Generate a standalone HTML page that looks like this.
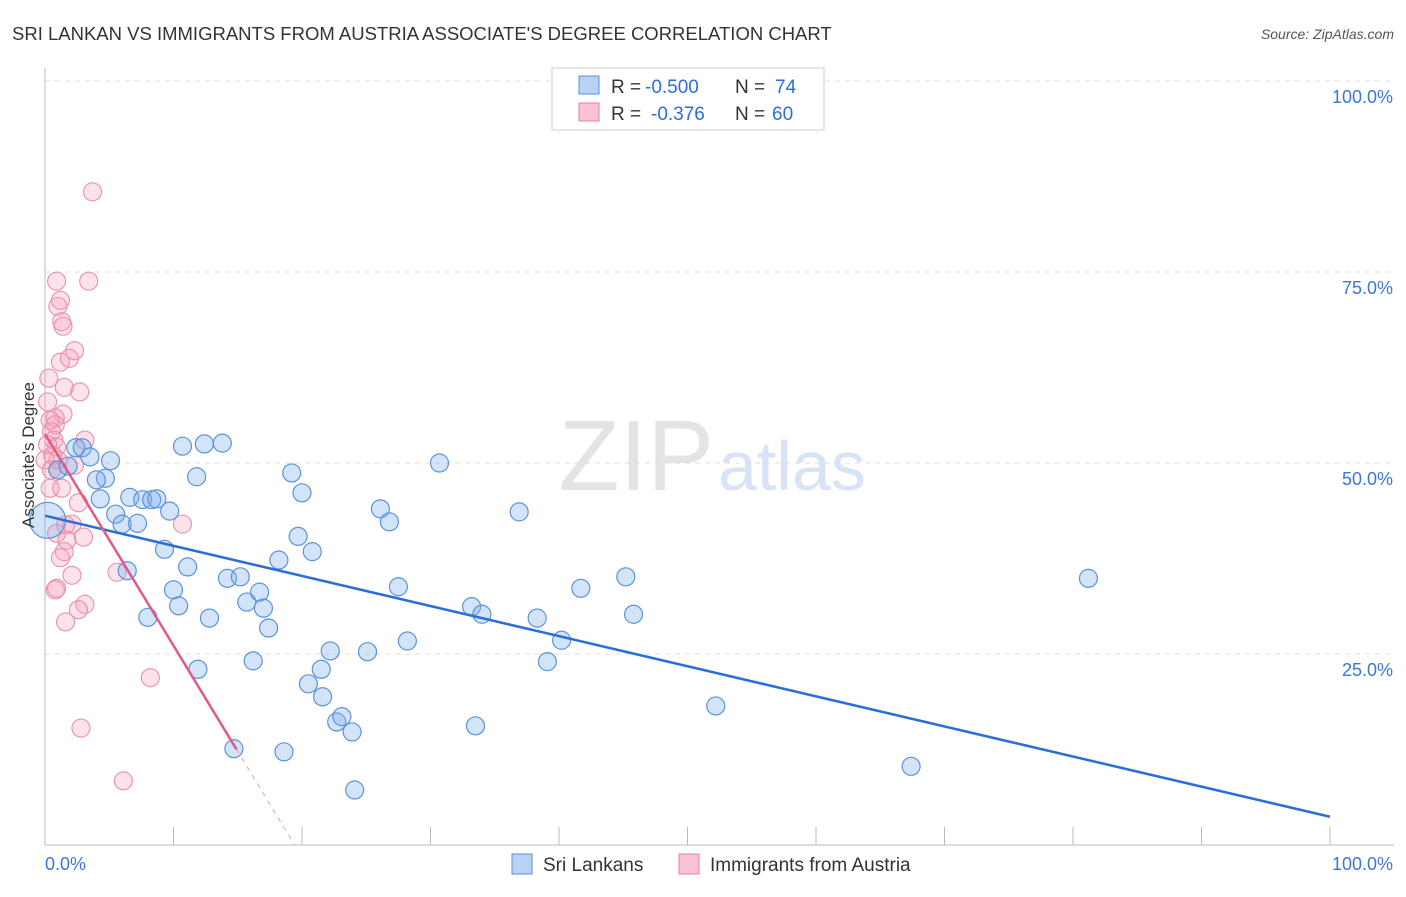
<!DOCTYPE html>
<html><head><meta charset="utf-8"><style>
body{margin:0;background:#fff;font-family:"Liberation Sans",sans-serif;}
svg text{font-family:"Liberation Sans",sans-serif;}
</style></head><body>
<svg id="chart" width="1406" height="892">
<text x="12" y="40" font-size="18.5" fill="#333">SRI LANKAN VS IMMIGRANTS FROM AUSTRIA ASSOCIATE'S DEGREE CORRELATION CHART</text>
<text x="1394" y="39" font-size="14" fill="#555" font-style="italic" text-anchor="end">Source: ZipAtlas.com</text>
<text x="714" y="490" font-size="100" fill="#e4e4e4" text-anchor="end" font-family="Liberation Serif">ZIP</text>
<text x="718" y="490" font-size="70" fill="#d6e4f5">atlas</text>
<g id="grid"></g><g id="axes"></g><g id="pts"></g><g id="lines"></g>
<text transform="translate(34,455) rotate(-90)" font-size="17" fill="#333" text-anchor="middle">Associate's Degree</text>
<g>
<rect x="552" y="68" width="272" height="62" fill="#fff" stroke="#ccc"/>
<rect x="579" y="76" width="20" height="18" fill="#b8d2f4" stroke="#5b8fd6"/>
<rect x="579" y="103" width="20" height="18" fill="#f9c3d3" stroke="#e8809f"/>
<text x="611" y="93" font-size="19" fill="#333">R =</text>
<text x="645" y="93" font-size="19" fill="#2a6fd6">-0.500</text>
<text x="735" y="93" font-size="19" fill="#333">N =</text>
<text x="775" y="93" font-size="19" fill="#2a6fd6">74</text>
<text x="611" y="120" font-size="19" fill="#333">R =</text>
<text x="651" y="120" font-size="19" fill="#2a6fd6">-0.376</text>
<text x="735" y="120" font-size="19" fill="#333">N =</text>
<text x="772" y="120" font-size="19" fill="#2a6fd6">60</text>
</g>
<g>
<rect x="512" y="854" width="20" height="20" fill="#b8d2f4" stroke="#5b8fd6"/>
<text x="543" y="871" font-size="19" fill="#333">Sri Lankans</text>
<rect x="679" y="854" width="20" height="20" fill="#f9c3d3" stroke="#e8809f"/>
<text x="710" y="871" font-size="19" fill="#333">Immigrants from Austria</text>
</g>
</svg>
<script>
const blueX=[0.2,1.0,1.8,2.4,2.9,3.5,4.3,4.7,5.1,4.0,5.5,6.0,6.6,7.2,7.6,8.3,8.7,6.4,8.0,9.3,9.7,10.0,10.4,10.7,11.1,11.8,11.9,12.4,12.8,13.8,14.2,15.2,15.7,16.2,16.7,17.0,17.4,18.2,18.6,19.2,19.7,20.0,20.8,20.5,21.5,21.6,22.2,22.7,23.1,23.9,24.1,25.1,26.1,26.8,27.5,28.2,30.7,33.2,33.5,34.0,36.9,38.3,39.1,40.2,41.7,45.2,45.8,52.2,67.4,81.2,14.7];
const blueY=[42.5,49.1,49.6,52.0,52.0,50.8,45.3,48.0,50.3,47.8,43.3,42.0,45.5,42.1,45.2,45.2,45.3,35.9,29.8,38.7,43.7,33.4,31.3,52.2,36.4,48.2,23.0,52.5,29.7,52.6,34.9,35.1,31.8,24.1,33.1,31.0,28.4,37.3,12.2,48.7,40.4,46.1,38.4,21.1,23.0,19.4,25.4,16.1,16.8,14.8,7.2,25.3,44.0,42.3,33.8,26.7,50.0,31.2,15.6,30.2,43.6,29.7,24.0,26.8,33.6,35.1,30.2,18.2,10.3,34.9,12.6];
const pinkX=[3.7,0.9,3.4,1.0,1.2,1.3,1.4,2.3,1.2,1.9,0.3,1.5,2.7,0.2,1.4,0.8,0.8,0.5,0.7,0.9,0.6,1.0,3.1,2.3,0.4,1.3,2.6,2.1,0.9,3.0,1.7,1.5,1.2,2.1,3.1,2.6,0.9,0.8,1.6,5.6,10.7,8.2,2.8,6.1,0.0,0.5,0.2,0.4,1.6,1.0];
const pinkY=[85.5,73.8,73.8,70.5,71.3,68.5,67.9,64.7,63.2,63.7,61.1,59.9,59.3,58.0,56.4,55.9,55.0,54.1,53.0,52.1,51.0,50.4,53.0,49.7,46.7,46.7,44.8,42.0,40.8,40.3,39.9,38.4,37.6,35.3,31.5,30.8,33.6,33.4,29.2,35.7,42.0,21.9,15.3,8.4,50.4,49.1,52.4,55.6,41.9,49.1];
const blueTrend=[43.1,3.7];
const pinkTrend=[53.8,-2.77];
const pinkSolidEnd=14.9, pinkDashEnd=19.4;
const yTicks=[25,50,75,100];
const yTickLabels=["25.0%","50.0%","75.0%","100.0%"];
const xTicks=[0,10,20,30,40,50,60,70,80,90,100];

const NS="http://www.w3.org/2000/svg";
const sx=v=>45+v*12.85, sy=v=>845-v*7.64;
function mk(tag,attrs,parent){const e=document.createElementNS(NS,tag);for(const k in attrs)e.setAttribute(k,attrs[k]);document.getElementById(parent).appendChild(e);return e;}
yTicks.forEach((t,i)=>{
  const g=mk('line',{x1:45,x2:1394,y1:sy(t),y2:sy(t),stroke:'#ddd','stroke-dasharray':'5,5'},'grid');
  
  
  const l=mk('text',{x:1393,y:sy(t)+22,'font-size':18,fill:'#3b78d8','text-anchor':'end'},'axes');
  l.textContent=yTickLabels[i];
  
  
});
const ax=mk('line',{x1:45,x2:45,y1:68,y2:845,stroke:'#bbb'},'axes');


const bx=mk('line',{x1:45,x2:1394,y1:845,y2:845,stroke:'#bbb'},'axes');


xTicks.forEach(t=>{
  const tk=mk('line',{x1:sx(t),x2:sx(t),y1:827,y2:845,stroke:'#bbb'},'axes');
  
  
});
const x0=mk('text',{x:45,y:870,'font-size':18,fill:'#3b78d8'},'axes');x0.textContent='0.0%';


const x1=mk('text',{x:1393,y:870,'font-size':18,fill:'#3b78d8','text-anchor':'end'},'axes');x1.textContent='100.0%';


pinkX.forEach((x,i)=>{
  const c=mk('circle',{cx:sx(x),cy:sy(pinkY[i]),r:9,fill:'rgba(245,160,185,0.3)',stroke:'#eb8fab','stroke-width':1.1},'pts');
  
  
});
blueX.forEach((x,i)=>{
  const c=mk('circle',{cx:sx(x),cy:sy(blueY[i]),r:i===0?18:9,fill:'rgba(130,175,235,0.35)',stroke:'#5b93dc','stroke-width':1.2},'pts');
  
  
});
const bl=mk('line',{x1:sx(0),y1:sy(blueTrend[0]),x2:sx(100),y2:sy(blueTrend[1]),stroke:'#2a6fd6','stroke-width':2.5},'lines');


const pf=x=>pinkTrend[0]+pinkTrend[1]*x;
const pl=mk('line',{x1:sx(0),y1:sy(pf(0)),x2:sx(pinkSolidEnd),y2:sy(pf(pinkSolidEnd)),stroke:'#e05a88','stroke-width':2.5},'lines');


const pd=mk('line',{x1:sx(pinkSolidEnd),y1:sy(pf(pinkSolidEnd)),x2:sx(pinkDashEnd),y2:sy(pf(pinkDashEnd)),stroke:'#e8a0b8','stroke-width':1,'stroke-dasharray':'5,5'},'lines');


</script>
</body></html>
